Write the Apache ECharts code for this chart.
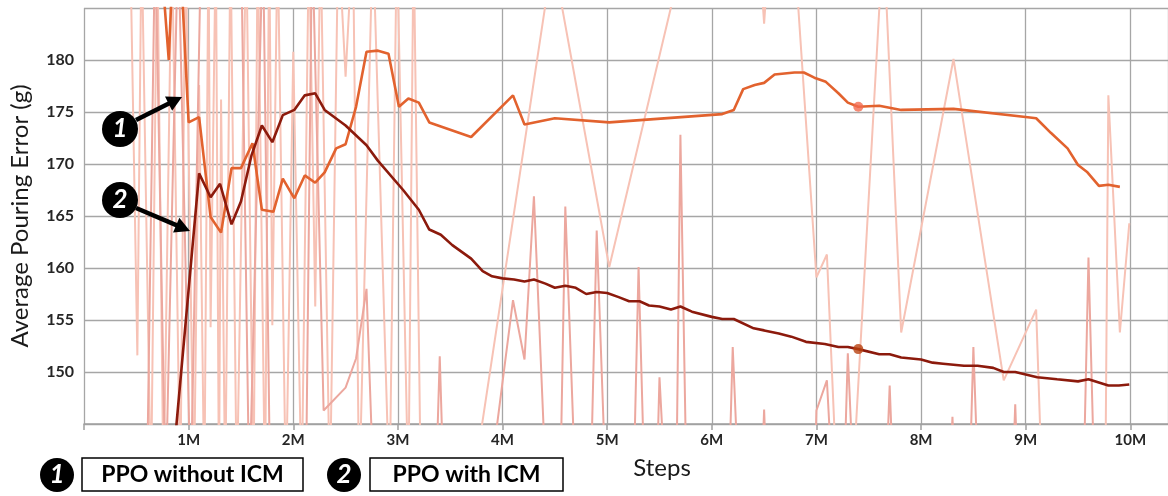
<!DOCTYPE html>
<html>
<head>
<meta charset="utf-8">
<script src="https://cdn.jsdelivr.net/npm/echarts/dist/echarts.min.js"></script>
<style>
  html, body { margin: 0; padding: 0; background: #ffffff; }
  #chart { width: 1168px; height: 496px; }
</style>
</head>
<body>
<div id="chart"></div>
<script>
// Training steps (millions) and smoothed average pouring error (g)
const withoutIcmSteps = [0.72,0.81,0.86,0.92,1.00,1.10,1.21,1.31,1.41,1.50,1.61,1.70,1.81,1.90,2.01,2.11,2.21,2.30,2.41,2.50,2.60,2.70,2.81,2.91,3.01,3.10,3.20,3.30,3.70,4.10,4.21,4.50,5.02,6.10,6.21,6.30,6.41,6.50,6.60,6.79,6.88,6.98,7.09,7.21,7.30,7.40,7.60,7.81,8.31,9.02,9.10,9.24,9.40,9.50,9.59,9.70,9.79,9.90];
const withoutIcmError = [192,180.0,192,190,174.0,174.5,164.9,163.4,169.6,169.6,172.0,165.6,165.4,168.6,166.7,168.9,168.2,169.2,171.5,171.9,175.5,180.8,180.9,180.6,175.5,176.3,175.9,174.0,172.6,176.6,173.8,174.4,174.0,174.8,175.2,177.2,177.6,177.8,178.6,178.8,178.8,178.3,177.9,176.8,175.9,175.5,175.6,175.2,175.3,174.5,174.4,173.0,171.5,169.9,169.2,167.9,168.0,167.8];

const withIcmSteps = [0.85,1.10,1.21,1.30,1.41,1.50,1.60,1.70,1.80,1.90,2.01,2.11,2.21,2.30,2.50,2.70,2.81,3.05,3.20,3.30,3.41,3.52,3.70,3.81,3.90,4.00,4.11,4.21,4.30,4.41,4.50,4.60,4.70,4.80,4.90,5.00,5.11,5.21,5.31,5.40,5.50,5.61,5.70,5.81,6.00,6.10,6.21,6.40,6.50,6.64,6.76,6.90,7.08,7.21,7.30,7.40,7.60,7.70,7.81,8.00,8.11,8.21,8.41,8.54,8.69,8.79,8.90,9.11,9.30,9.50,9.60,9.79,9.89,9.99];
const withIcmError = [141.2,169.1,166.8,168.1,164.2,166.4,170.8,173.7,172.1,174.7,175.2,176.6,176.8,175.2,173.7,171.8,170.3,167.5,165.6,163.7,163.2,162.2,160.9,159.7,159.2,159.0,158.9,158.7,158.9,158.5,158.1,158.3,158.1,157.5,157.7,157.6,157.2,156.8,156.8,156.4,156.3,156.0,156.3,155.8,155.3,155.1,155.1,154.2,154.0,153.7,153.4,152.9,152.7,152.4,152.4,152.2,151.7,151.7,151.4,151.2,150.9,150.8,150.6,150.6,150.4,150.0,150.0,149.5,149.3,149.1,149.3,148.7,148.7,148.8];

// Unsmoothed episode readings (many fall outside the visible range)
const rawWithoutSteps = [0.44,0.51,0.55,0.64,0.70,0.76,0.84,0.92,0.97,1.05,1.10,1.15,1.19,1.21,1.26,1.29,1.31,1.35,1.40,1.46,1.55,1.62,1.66,1.73,1.77,1.80,1.85,1.93,2.00,2.08,2.15,2.21,2.26,2.35,2.43,2.50,2.57,2.63,2.76,2.92,2.99,3.10,3.15,3.22,3.70,4.48,5.02,5.75,6.45,6.50,6.55,6.78,7.00,7.10,7.20,7.34,7.64,7.81,8.31,8.79,9.10,9.16,9.76,9.79,9.90,9.99];
const rawWithoutError = [192,151.6,192,138,192,138,192,138,192,138,177.6,138,192,154.3,192,138,176.2,138,192,138,192,138,192,138,192,154.5,192,138,180.8,138,192,156.3,192,138,192,178.4,192,138,192,138,192,138,192,138,138,190,160.1,191,191,183.5,191,192,159.1,161.3,138,138,192,153.8,180.1,149.2,156.0,138,138,176.6,153.8,164.3];

const rawWithSteps = [0.60,0.68,0.78,0.90,1.02,1.12,1.50,1.58,1.71,1.78,2.12,2.18,2.29,2.50,2.60,2.70,2.77,3.36,3.40,3.44,3.86,4.10,4.21,4.30,4.42,4.55,4.60,4.70,4.84,4.90,4.99,5.25,5.30,5.36,5.47,5.50,5.56,5.66,5.70,5.76,6.16,6.20,6.26,6.47,6.50,6.53,6.98,7.00,7.10,7.16,7.26,7.30,7.36,7.66,7.70,7.74,8.27,8.30,8.33,8.46,8.50,8.55,8.87,8.90,8.93,9.55,9.60,9.66];
const rawWithError = [138,192,138,192,138,192,192,138,192,138,138,192,146.3,148.5,151.3,158.0,138,138,151.5,138,138,156.9,151.2,166.9,138,138,165.9,138,138,163.6,138,138,160.1,138,138,149.5,138,138,172.8,138,138,152.4,138,138,146.4,138,138,146.3,149.2,138,138,151.8,138,138,148.7,138,138,145.7,138,138,152.4,138,138,146.9,138,138,161.0,138];

const seriesNames = ['PPO without ICM', 'PPO with ICM'];
const highlightStep = 7.40;

const pairs = (xs, ys) => xs.map((x, i) => [x, ys[i]]);
const valueAt = (xs, ys, x) => ys[xs.indexOf(x)];

const chart = echarts.init(document.getElementById('chart'), null, { renderer: 'canvas' });

const FONT = 'Lato, "Open Sans", sans-serif';

// Numbered badge + arrow helpers
function badge(cx, cy, r, label) {
  return [
    { type: 'circle', shape: { cx: cx, cy: cy, r: r }, style: { fill: '#000' }, z: 100 },
    { type: 'text', x: cx, y: cy, z: 101,
      style: { text: label, fill: '#fff', font: 'italic bold 26px ' + FONT, align: 'center', verticalAlign: 'middle' } }
  ];
}
function arrow(x1, y1, x2, y2) {
  const dx = x2 - x1, dy = y2 - y1, len = Math.hypot(dx, dy);
  const ux = dx / len, uy = dy / len, px = -uy, py = ux;
  const hl = 15, hw = 8;
  const bx = x2 - ux * hl, by = y2 - uy * hl;
  return [
    { type: 'line', shape: { x1: x1, y1: y1, x2: bx + ux * 2, y2: by + uy * 2 },
      style: { stroke: '#000', lineWidth: 4.5 }, z: 100 },
    { type: 'polygon', shape: { points: [[x2, y2], [bx + px * hw, by + py * hw], [bx - px * hw, by - py * hw]] },
      style: { fill: '#000' }, z: 100 }
  ];
}
function legendBox(x, w, label) {
  return [
    { type: 'rect', shape: { x: x, y: 458, width: w, height: 33 },
      style: { fill: '#fff', stroke: '#000', lineWidth: 1.5 }, z: 100 },
    { type: 'text', x: x + w / 2, y: 475, z: 101,
      style: { text: label, fill: '#000', font: 'bold 23px ' + FONT, align: 'center', verticalAlign: 'middle' } }
  ];
}

const option = {
  animation: false,
  backgroundColor: '#ffffff',
  grid: { left: 80, right: 0, top: 8, bottom: 72, containLabel: false },
  xAxis: {
    type: 'value',
    min: 0, max: 10.36, interval: 1,
    axisLine: { show: true, lineStyle: { color: '#a0a0a0', width: 1.5 } },
    axisTick: { show: true, length: 6, lineStyle: { color: '#a0a0a0', width: 1.5 } },
    axisLabel: {
      margin: 9, color: '#262626', fontFamily: FONT, fontWeight: 'bold', fontSize: 15,
      formatter: v => (v === 0 ? '' : v + 'M'),
      showMaxLabel: false
    },
    splitLine: { show: true, lineStyle: { color: '#a6a6a6', width: 1.3 } }
  },
  yAxis: {
    type: 'value',
    min: 145, max: 185, interval: 5,
    name: 'Average Pouring Error (g)',
    nameLocation: 'middle',
    nameGap: 52,
    nameTextStyle: { fontFamily: FONT, fontSize: 24, color: '#1a1a1a' },
    axisLine: { show: false },
    axisTick: { show: false },
    axisLabel: {
      margin: 10, color: '#262626', fontFamily: FONT, fontWeight: 'bold', fontSize: 16,
      formatter: v => (v === 145 || v === 185 ? '' : String(v))
    },
    splitLine: { show: true, lineStyle: { color: '#a6a6a6', width: 1.3 } }
  },
  series: [
    { name: seriesNames[0] + ' raw', type: 'line', data: pairs(rawWithoutSteps, rawWithoutError),
      symbol: 'none', clip: true, z: 1, lineStyle: { color: '#f7c2b5', width: 2 } },
    { name: seriesNames[1] + ' raw', type: 'line', data: pairs(rawWithSteps, rawWithError),
      symbol: 'none', clip: true, z: 2, lineStyle: { color: '#eca79e', width: 2 } },
    { name: seriesNames[0], type: 'line', data: pairs(withoutIcmSteps, withoutIcmError),
      symbol: 'none', clip: true, z: 5, lineStyle: { color: '#e2622e', width: 2.6 } },
    { name: seriesNames[1], type: 'line', data: pairs(withIcmSteps, withIcmError),
      symbol: 'none', clip: true, z: 6, lineStyle: { color: '#8c1a0c', width: 2.6 } },
    { type: 'scatter', z: 7, symbolSize: 10,
      data: [
        { value: [highlightStep, valueAt(withoutIcmSteps, withoutIcmError, highlightStep)], itemStyle: { color: '#f26a4f' } },
        { value: [highlightStep, valueAt(withIcmSteps, withIcmError, highlightStep)], itemStyle: { color: '#b8410f' } }
      ] }
  ],
  graphic: [
    ...arrow(136, 120, 182, 97),
    ...arrow(136, 208, 190, 231),
    ...badge(120, 129, 18, '1'),
    ...badge(120, 200, 18, '2'),
    ...badge(57, 475, 17, '1'),
    ...legendBox(82, 221, seriesNames[0]),
    ...badge(344, 475, 17, '2'),
    ...legendBox(370, 193, seriesNames[1]),
    { type: 'text', x: 662, y: 468, z: 101,
      style: { text: 'Steps', fill: '#1a1a1a', font: '24px ' + FONT, align: 'center', verticalAlign: 'middle' } }
  ]
};

chart.setOption(option);
</script>
</body>
</html>
